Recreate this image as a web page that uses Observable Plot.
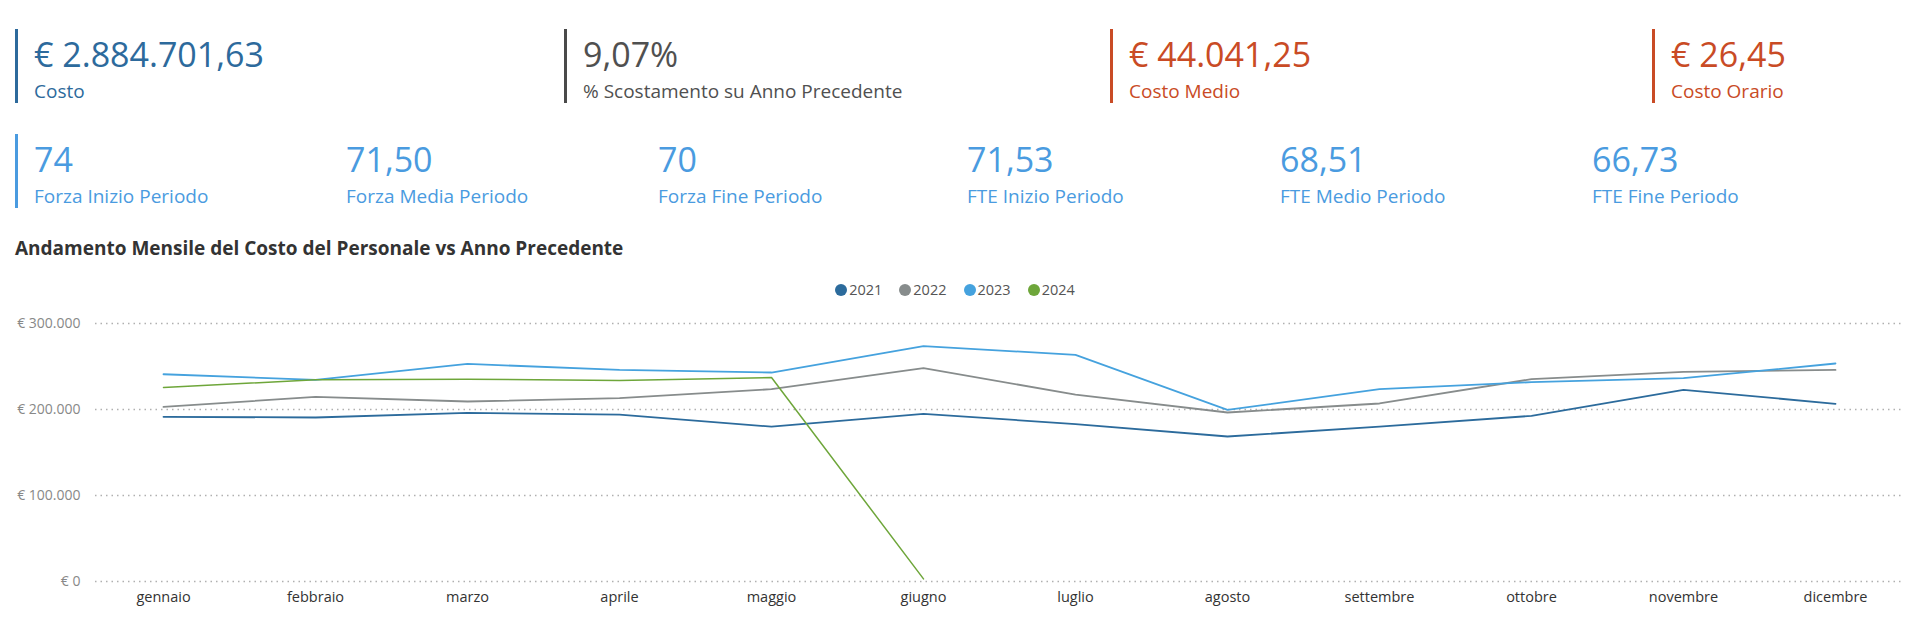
<!DOCTYPE html>
<html>
<head>
<meta charset="utf-8">
<script src="https://cdn.jsdelivr.net/npm/d3@7"></script>
<script src="https://cdn.jsdelivr.net/npm/@observablehq/plot@0.6"></script>
<style>
  html, body { margin: 0; padding: 0; background: #fff; }
  body { width: 1916px; height: 622px; position: relative; overflow: hidden; font-family: "Open Sans", "Noto Sans", sans-serif; }
  .bar { position: absolute; width: 3px; }
  .val { position: absolute; font-size: 34px; line-height: 34px; white-space: nowrap; }
  .lab { position: absolute; font-size: 19px; line-height: 19px; white-space: nowrap; }
  #title { position: absolute; left: 15px; top: 238px; font-size: 19px; line-height: 20px; font-weight: bold; color: #333; }
  #legend { position: absolute; top: 281px; left: 0; width: 1910px; display: flex; justify-content: center; gap: 17px; font-size: 14.5px; line-height: 18px; color: #555; }
  #legend span.item { display: flex; align-items: center; gap: 2px; }
  #legend span.dot { width: 12px; height: 12px; border-radius: 50%; display: inline-block; }
  #chart { position: absolute; left: 0; top: 300px; }
</style>
</head>
<body>
<div id="kpis"></div>
<div id="title">Andamento Mensile del Costo del Personale vs Anno Precedente</div>
<div id="legend"></div>
<div id="chart"></div>
<script>
// KPI data
const kpiRow1Values = ["€ 2.884.701,63", "9,07%", "€ 44.041,25", "€ 26,45"];
const kpiRow1Labels = ["Costo", "% Scostamento su Anno Precedente", "Costo Medio", "Costo Orario"];
const kpiRow2Values = ["74", "71,50", "70", "71,53", "68,51", "66,73"];
const kpiRow2Labels = ["Forza Inizio Periodo", "Forza Media Periodo", "Forza Fine Periodo", "FTE Inizio Periodo", "FTE Medio Periodo", "FTE Fine Periodo"];

// Chart data
const months = ["gennaio", "febbraio", "marzo", "aprile", "maggio", "giugno", "luglio", "agosto", "settembre", "ottobre", "novembre", "dicembre"];
const years = ["2021", "2022", "2023", "2024"];
const cost2021 = [191500, 190700, 196000, 194000, 180000, 195000, 183000, 168600, 180000, 192600, 222900, 206600];
const cost2022 = [203000, 214700, 209300, 213200, 223600, 248000, 217400, 196500, 207000, 235300, 243800, 246000];
const cost2023 = [241000, 234500, 253000, 246000, 243000, 273600, 263600, 199600, 223600, 231800, 236400, 253500];
const cost2024 = [225600, 234500, 235300, 233700, 237200, 3000];
const yTicks = [0, 100000, 200000, 300000];

const seriesColors = ["#2c6b9c", "#878c8c", "#45a2de", "#6ea63a"];

// KPI layout
const kpis = document.getElementById("kpis");
function addCard(x, rowTop, value, label, color, barColor, withBar) {
  if (withBar) {
    const b = document.createElement("div");
    b.className = "bar";
    b.style.left = (x - 19) + "px";
    b.style.top = (rowTop - 8) + "px";
    b.style.height = "74px";
    b.style.background = barColor;
    kpis.appendChild(b);
  }
  const v = document.createElement("div");
  v.className = "val"; v.textContent = value; v.style.left = x + "px"; v.style.top = rowTop + "px"; v.style.color = color;
  kpis.appendChild(v);
  const l = document.createElement("div");
  l.className = "lab"; l.textContent = label; l.style.left = x + "px"; l.style.top = (rowTop + 45) + "px"; l.style.color = color;
  kpis.appendChild(l);
}
const r1x = [34, 583, 1129, 1671];
const r1c = ["#2d6a9c", "#505050", "#c94b25", "#c94b25"];
const r1b = ["#2d6a9c", "#4a4a4a", "#c94b25", "#c94b25"];
kpiRow1Values.forEach((v, i) => addCard(r1x[i], 37, v, kpiRow1Labels[i], r1c[i], r1b[i], true));
const r2x = [34, 346, 658, 967, 1280, 1592];
kpiRow2Values.forEach((v, i) => addCard(r2x[i], 142, v, kpiRow2Labels[i], "#4a9be0", "#4a9be0", i === 0));

// Legend
const legend = document.getElementById("legend");
years.forEach((y, i) => {
  const it = document.createElement("span"); it.className = "item";
  const d = document.createElement("span"); d.className = "dot"; d.style.background = seriesColors[i];
  const t = document.createElement("span"); t.textContent = y;
  it.appendChild(d); it.appendChild(t); legend.appendChild(it);
});

// Chart
const allSeries = [cost2021, cost2022, cost2023, cost2024];
const data = allSeries.flatMap((arr, i) => arr.map((v, j) => ({ year: years[i], month: months[j], value: v })));

const loc = d3.formatLocale({ decimal: ",", thousands: ".", grouping: [3], currency: ["€ ", ""] });
const fmt = loc.format("$,.0f");

const chart = Plot.plot({
  width: 1916,
  height: 322,
  marginLeft: 95,
  marginRight: 13,
  marginTop: 23,
  marginBottom: 41,
  style: { fontFamily: "'Open Sans', 'Noto Sans', sans-serif", background: "transparent" },
  x: { type: "point", domain: months, padding: 0.42, label: null },
  y: { domain: [0, 300000], label: null },
  color: { domain: years, range: seriesColors },
  marks: [
    Plot.ruleY(yTicks, { stroke: "#b0b0b0", strokeWidth: 1.5, strokeDasharray: "1.5,4" }),
    Plot.axisY(yTicks, { tickSize: 0, tickPadding: 15, fontSize: 14, fill: "#888", tickFormat: fmt, label: null }),
    Plot.axisX({ tickSize: 0, tickPadding: 10, fontSize: 14.5, fill: "#333", label: null }),
    ...years.map((yr, i) => Plot.line(data.filter(d => d.year === yr), {
      x: "month", y: "value", stroke: "year", strokeWidth: i === 3 ? 1.5 : 1.8
    }))
  ]
});
document.getElementById("chart").appendChild(chart);
</script>
</body>
</html>
